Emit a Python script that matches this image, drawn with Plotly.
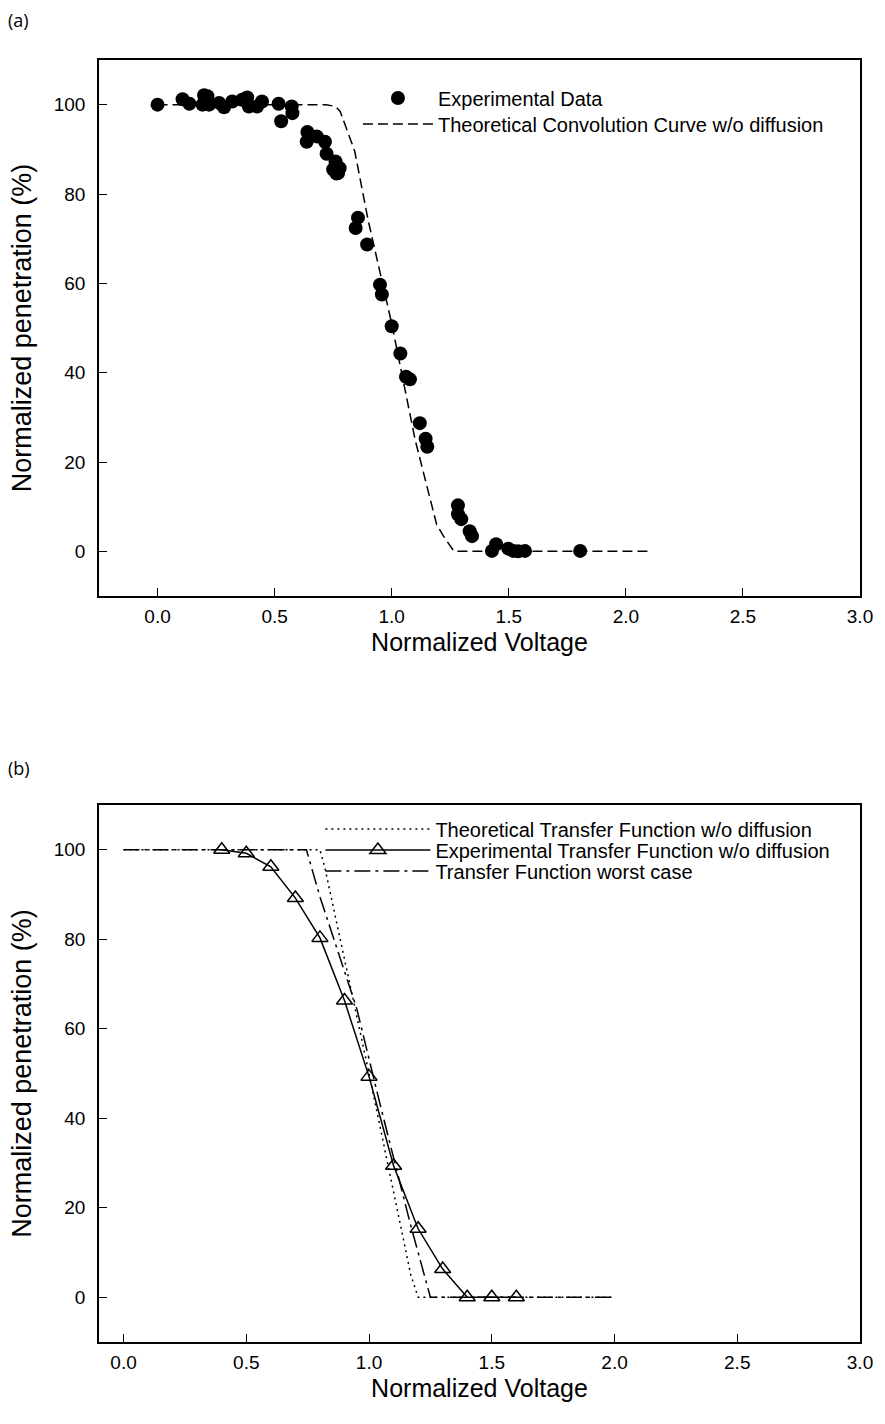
import plotly.graph_objects as go

# Panel (a): experimental data
exp_x = [0.0, 0.107, 0.136, 0.192, 0.199, 0.213, 0.22, 0.263, 0.284, 0.319, 0.361, 0.383,
         0.39, 0.425, 0.446, 0.517, 0.528, 0.573, 0.576, 0.637, 0.64, 0.68, 0.715, 0.722,
         0.75, 0.76, 0.764, 0.771, 0.778, 0.846, 0.856, 0.895, 0.95, 0.958, 1.0, 1.037,
         1.061, 1.078, 1.12, 1.145, 1.152, 1.283, 1.283, 1.297, 1.333, 1.343, 1.428,
         1.446, 1.498, 1.519, 1.54, 1.569, 1.805]
exp_y = [100.0, 101.2, 100.2, 100.0, 102.1, 101.9, 100.0, 100.4, 99.4, 100.7, 101.1, 101.6,
         99.6, 99.6, 100.7, 100.2, 96.3, 99.6, 98.1, 91.7, 93.9, 92.9, 91.7, 89.0,
         85.5, 87.3, 84.6, 84.7, 85.8, 72.4, 74.7, 68.7, 59.7, 57.5, 50.4, 44.3,
         39.1, 38.5, 28.7, 25.2, 23.4, 10.3, 8.3, 7.2, 4.5, 3.4, 0.1,
         1.6, 0.6, 0.1, 0.0, 0.1, 0.1]

# Panel (a): theoretical convolution curve w/o diffusion
conv_x = [0.0, 0.72, 0.76, 0.78, 0.842, 0.9, 1.0, 1.1, 1.192, 1.22, 1.266, 2.11]
conv_y = [100.0, 100.0, 99.6, 98.5, 89.6, 74.0, 51.0, 25.0, 6.0, 3.5, 0.0, 0.0]

# Panel (b): theoretical transfer function w/o diffusion
theo_x = [0.0, 0.8, 0.82, 1.0, 1.17, 1.2, 2.0]
theo_y = [100.0, 100.0, 96.0, 50.0, 5.0, 0.0, 0.0]

# Panel (b): experimental transfer function w/o diffusion
tf_x = [0.4, 0.5, 0.6, 0.7, 0.8, 0.9, 1.0, 1.1, 1.2, 1.3, 1.4, 1.5, 1.6]
tf_y = [100.0, 99.2, 96.2, 89.2, 80.3, 66.3, 49.3, 29.4, 15.3, 6.3, 0.0, 0.0, 0.0]

# Panel (b): transfer function worst case
worst_x = [0.0, 0.745, 0.8, 0.95, 1.05, 1.17, 1.25, 2.0]
worst_y = [100.0, 100.0, 89.5, 64.5, 42.0, 16.0, 0.0, 0.0]

x_ticks = [0, 0.5, 1, 1.5, 2, 2.5, 3]
x_tick_text = ["0.0", "0.5", "1.0", "1.5", "2.0", "2.5", "3.0"]
y_ticks = [0, 20, 40, 60, 80, 100]

FONT = "Liberation Sans, Arial, sans-serif"

W, H = 885, 1424
PX0, PX1 = 99, 869     # x of plot area
PY0, PY1 = 60, 1342    # y of plot area
ML, MT = PX0, PY0
MR = W - PX1
MB = H - PY1


def paper_x(sx):
    return (sx - PX0) / (PX1 - PX0)


def paper_y(sy):
    return (PY1 - sy) / (PY1 - PY0)


fig = go.Figure()

fig.add_trace(go.Scatter(x=exp_x, y=exp_y, mode="markers", name="Experimental Data",
                         marker=dict(symbol="circle", size=14, color="black"),
                         xaxis="x", yaxis="y", legend="legend"))
fig.add_trace(go.Scatter(x=conv_x, y=conv_y, mode="lines",
                         name="Theoretical Convolution Curve w/o diffusion",
                         line=dict(color="black", width=1.5, dash="10px,5px"),
                         xaxis="x", yaxis="y", legend="legend2"))

fig.add_trace(go.Scatter(x=theo_x, y=theo_y, mode="lines",
                         name="Theoretical Transfer Function w/o diffusion",
                         line=dict(color="black", width=1.5, dash="2px,4px"),
                         xaxis="x2", yaxis="y2", legend="legend3"))
fig.add_trace(go.Scatter(x=tf_x, y=tf_y, mode="lines+markers",
                         name="Experimental Transfer Function w/o diffusion",
                         line=dict(color="black", width=1.5),
                         marker=dict(symbol="triangle-up-open", size=14, color="black",
                                     line=dict(width=1.5, color="black")),
                         xaxis="x2", yaxis="y2", legend="legend4"))
fig.add_trace(go.Scatter(x=worst_x, y=worst_y, mode="lines",
                         name="Transfer Function worst case",
                         line=dict(color="black", width=1.5, dash="16px,5px,3px,5px"),
                         xaxis="x2", yaxis="y2", legend="legend5"))

axis_common = dict(showline=True, linecolor="black", linewidth=1.5, mirror=True,
                   ticks="inside", ticklen=8, tickwidth=1.2, tickcolor="black",
                   showgrid=False, zeroline=False, ticklabeloverflow="allow",
                   tickfont=dict(family=FONT, size=19, color="black"))

xt = dict(text="Normalized Voltage", font=dict(family=FONT, size=25, color="black"), standoff=8)
yt = dict(text="Normalized penetration (%)", font=dict(family=FONT, size=27, color="black"), standoff=14)


def leg(sx_text, sy, itemwidth, size):
    # text starts at legend x + itemwidth + 9
    return dict(x=paper_x(sx_text - itemwidth - 9), y=paper_y(sy), xanchor="left", yanchor="middle",
                bgcolor="rgba(0,0,0,0)", font=dict(family=FONT, size=size, color="black"),
                itemwidth=itemwidth, tracegroupgap=0)


fig.update_layout(
    width=W, height=H,
    paper_bgcolor="white", plot_bgcolor="white",
    margin=dict(l=ML, r=MR, t=MT, b=MB),
    showlegend=True,
    xaxis=dict(domain=[0, 1], range=[-0.25, 3.0], tickvals=x_ticks, ticktext=x_tick_text,
               anchor="y", title=xt, ticklabelstandoff=2, **axis_common),
    yaxis=dict(domain=[paper_y(596), 1.0], range=[-10, 110], tickvals=y_ticks,
               anchor="x", title=yt, ticklabelstandoff=8, **axis_common),
    xaxis2=dict(domain=[0, 1], range=[-0.1, 3.0], tickvals=x_ticks, ticktext=x_tick_text,
                anchor="y2", title=xt, ticklabelstandoff=2, **axis_common),
    yaxis2=dict(domain=[0.0, paper_y(805)], range=[-10, 110], tickvals=y_ticks,
                anchor="x2", title=yt, ticklabelstandoff=8, **axis_common),
    legend=leg(440, 98, 70, 20),
    legend2=leg(440, 124, 70, 20),
    legend3=leg(437, 829, 105, 20),
    legend4=leg(437, 850, 105, 20),
    legend5=leg(437, 871, 105, 20),
)

for label, (sx, sy) in (("(a)", (18, 20)), ("(b)", (18, 768))):
    fig.add_annotation(text=label, x=paper_x(sx), y=paper_y(sy), xref="paper", yref="paper",
                       showarrow=False, xanchor="center", yanchor="middle",
                       font=dict(family="Open Sans, Noto Sans, sans-serif", size=18, color="black"))

fig.write_html("out.html", config={"displayModeBar": False},
               post_script="document.body.style.margin='0';")
